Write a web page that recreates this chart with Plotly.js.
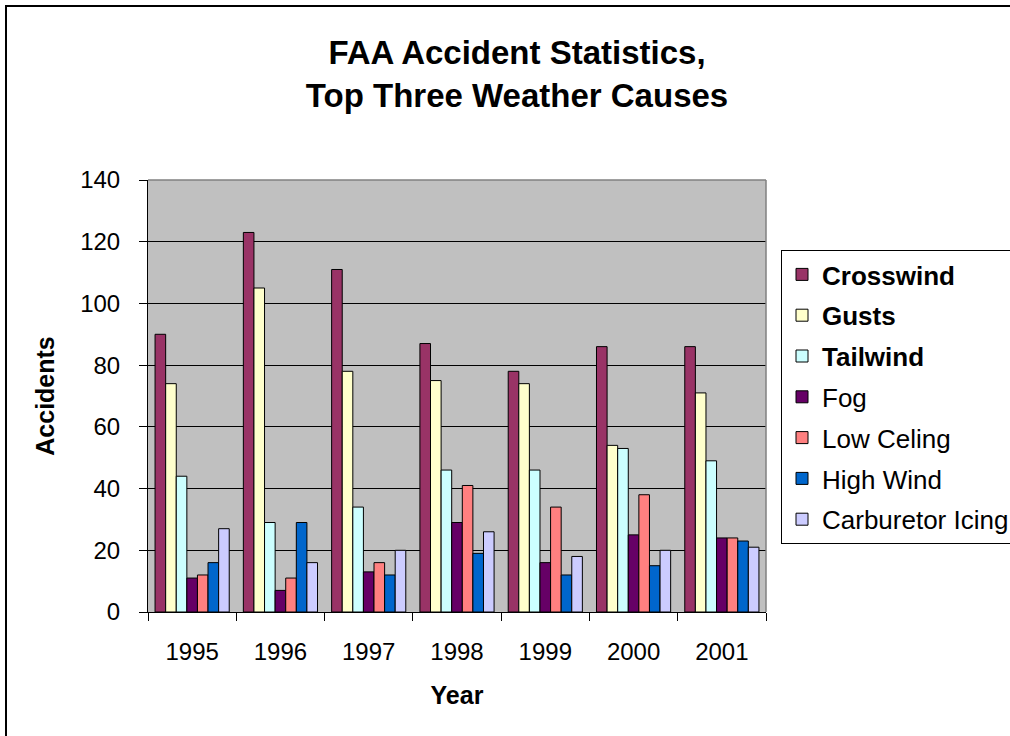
<!DOCTYPE html>
<html>
<head>
<meta charset="utf-8">
<script src="https://cdn.plot.ly/plotly-3.0.1.min.js"></script>
<style>html,body{margin:0;padding:0;background:#fff;}#chart{width:1010px;height:736px;}</style>
</head>
<body>
<div id="chart"></div>
<script>
const years = ["1995", "1996", "1997", "1998", "1999", "2000", "2001"];
const seriesNames = ["<b>Crosswind</b>", "<b>Gusts</b>", "<b>Tailwind</b>", "Fog", "Low Celing", "High Wind", "Carburetor Icing"];
const crosswind = [90, 123, 111, 87, 78, 86, 86];
const gusts = [74, 105, 78, 75, 74, 54, 71];
const tailwind = [44, 29, 34, 46, 46, 53, 49];
const fog = [11, 7, 13, 29, 16, 25, 24];
const lowCeiling = [12, 11, 16, 41, 34, 38, 24];
const highWind = [16, 29, 12, 19, 12, 15, 23];
const carbIcing = [27, 16, 20, 26, 18, 20, 21];
const seriesColors = ["#993366", "#FFFFCC", "#CCFFFF", "#660066", "#FF8080", "#0066CC", "#CCCCFF"];
const yTicks = [0, 20, 40, 60, 80, 100, 120, 140];

const values = [crosswind, gusts, tailwind, fog, lowCeiling, highWind, carbIcing];
const FONT = "Liberation Sans, Arial, sans-serif";

const data = values.map((v, i) => ({
  type: "bar",
  x: years,
  y: v,
  name: seriesNames[i],
  legendgroup: "g" + i,
  marker: {color: seriesColors[i], line: {color: "#000", width: 1}},
  hoverinfo: "x+y+name"
}));

const layout = {
  width: 1010,
  height: 736,
  margin: {l: 148, r: 244, t: 180, b: 124, autoexpand: false},
  paper_bgcolor: "#fff",
  plot_bgcolor: "#C0C0C0",
  font: {family: FONT, color: "#000", size: 24},
  title: {
    text: "<b>FAA Accident Statistics,<br>Top Three Weather Causes</b>",
    font: {family: FONT, size: 33, color: "#000"},
    xref: "container", x: 517 / 1010, xanchor: "center",
    yref: "container", y: 1 - 64 / 736, yanchor: "top"
  },
  barmode: "group",
  bargap: 0.16,
  bargroupgap: 0,
  showlegend: true,
  legend: {
    x: (781 - 148) / 618, xanchor: "left",
    y: (612 - 250) / 432, yanchor: "top",
    bordercolor: "#000", borderwidth: 1,
    bgcolor: "#fff",
    font: {family: FONT, size: 26, color: "#000"},
    tracegroupgap: 4,
    traceorder: "grouped"
  },
  xaxis: {
    type: "category",
    tickson: "boundaries",
    ticks: "outside", ticklen: 8, tickcolor: "#000", tickwidth: 1,
    showline: true, linecolor: "#000", linewidth: 1,
    showgrid: false,
    ticklabelstandoff: 18,
    tickfont: {family: FONT, size: 24, color: "#000"},
    title: {text: "<b>Year</b>", font: {family: FONT, size: 25, color: "#000"}, standoff: 22},
    automargin: false,
    fixedrange: true
  },
  yaxis: {
    range: [0, 140],
    tickvals: yTicks,
    ticktext: yTicks.map(String),
    ticks: "outside", ticklen: 8, tickcolor: "#000", tickwidth: 1,
    showline: true, linecolor: "#000", linewidth: 1,
    showgrid: true, gridcolor: "#000", gridwidth: 1,
    zeroline: false,
    ticklabelstandoff: 14,
    tickfont: {family: FONT, size: 24, color: "#000"},
    title: {text: "<b>Accidents</b>", font: {family: FONT, size: 25, color: "#000"}, standoff: 18},
    automargin: false,
    fixedrange: true
  },
  shapes: [
    {type: "line", xref: "paper", yref: "paper", x0: 0, x1: 1, y0: 1, y1: 1, line: {color: "#808080", width: 1.5}, layer: "above"},
    {type: "line", xref: "paper", yref: "paper", x0: 1, x1: 1, y0: 0, y1: 1, line: {color: "#808080", width: 1.5}, layer: "above"},
    {type: "rect", xref: "paper", yref: "paper",
     x0: (6 - 148) / 618, x1: (1020 - 148) / 618,
     y0: (612 - 745) / 432, y1: (612 - 6) / 432,
     line: {color: "#000", width: 2}, fillcolor: "rgba(0,0,0,0)", layer: "below"}
  ]
};

Plotly.newPlot("chart", data, layout, {displayModeBar: false, staticPlot: true});
</script>
</body>
</html>
